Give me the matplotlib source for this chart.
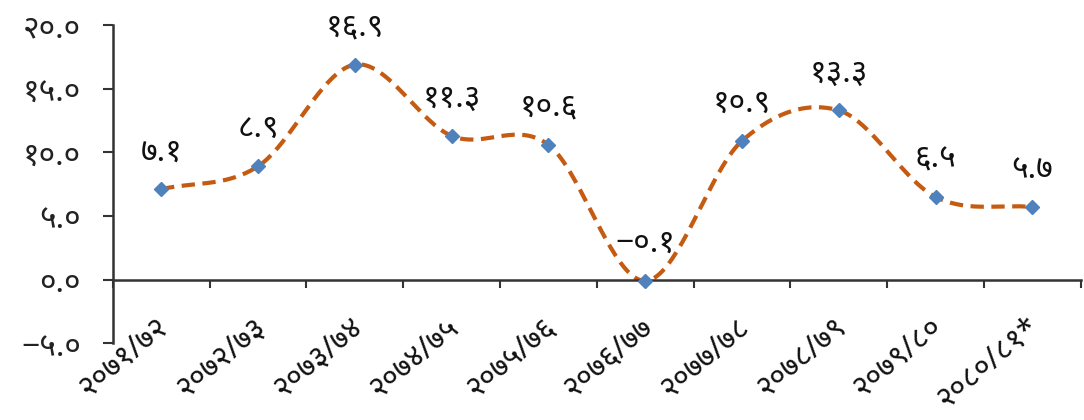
import numpy as np
import matplotlib
matplotlib.use("Agg")
import matplotlib.pyplot as plt

plt.rcParams['font.family'] = ['Noto Sans', 'DejaVu Sans']

categories = ["२०७१/७२", "२०७२/७३", "२०७३/७४", "२०७४/७५", "२०७५/७६",
              "२०७६/७७", "२०७७/७८", "२०७८/७९", "२०७९/८०", "२०८०/८१*"]
values = [7.1, 8.9, 16.9, 11.3, 10.6, -0.1, 10.9, 13.3, 6.5, 5.7]
value_labels = ["७.१", "८.९", "१६.९", "११.३", "१०.६", "−०.१", "१०.९", "१३.३", "६.५", "५.७"]
yticks = [-5, 0, 5, 10, 15, 20]
ytick_labels = ["−५.०", "०.०", "५.०", "१०.०", "१५.०", "२०.०"]

def catmull_rom(x, y, n=40):
    x = np.asarray(x, float); y = np.asarray(y, float)
    px = np.concatenate([[2*x[0]-x[1]], x, [2*x[-1]-x[-2]]])
    py = np.concatenate([[2*y[0]-y[1]], y, [2*y[-1]-y[-2]]])
    xs, ys = [], []
    t = np.linspace(0, 1, n)
    for i in range(1, len(px)-2):
        p0, p1, p2, p3 = py[i-1], py[i], py[i+1], py[i+2]
        q0, q1, q2, q3 = px[i-1], px[i], px[i+1], px[i+2]
        def seg(a0, a1, a2, a3):
            return 0.5*((2*a1) + (-a0+a2)*t + (2*a0-5*a1+4*a2-a3)*t**2 + (-a0+3*a1-3*a2+a3)*t**3)
        xs.append(seg(q0, q1, q2, q3)); ys.append(seg(p0, p1, p2, p3))
    return np.concatenate(xs), np.concatenate(ys)

fig = plt.figure(figsize=(10.84, 4.20), dpi=100)
ax = fig.add_axes([0.104, 0.183, 0.893, 0.757])

x = np.arange(len(values))
sx, sy = catmull_rom(x, values)
line, = ax.plot(sx, sy, color='#C55A11', linewidth=3.0, linestyle='--', zorder=2)
line.set_dashes((3.2, 1.8))
ax.plot(x, values, linestyle='none', marker='D', markersize=7, color='#4F81BD', zorder=3)

FS = 23
for xi, v, lab in zip(x, values, value_labels):
    ax.annotate(lab, (xi, v), xytext=(0, 27), textcoords='offset points',
                ha='center', va='center', fontsize=FS, color='#111111')

ax.set_xlim(-0.5, len(values)-0.5)
ax.set_ylim(-5, 20)
ax.set_yticks(yticks)
ax.set_yticklabels(ytick_labels, fontsize=FS, color='#222222')
ax.set_xticks(np.arange(len(values)+1) - 0.5)
ax.set_xticklabels([])
ax.spines['top'].set_visible(False)
ax.spines['right'].set_visible(False)
ax.spines['bottom'].set_position(('data', 0))
for s in ('left', 'bottom'):
    ax.spines[s].set_color('#333333')
    ax.spines[s].set_linewidth(1.8)
ax.tick_params(axis='y', direction='out', length=7, width=1.5, colors='#333333', labelcolor='#222222', pad=16)
ax.tick_params(axis='x', direction='out', length=6, width=1.5, colors='#333333')

for xi, lab in zip(x, categories):
    ax.text(xi + 0.04, -3.4, lab, rotation=40, ha='right', va='center', rotation_mode='anchor',
            fontsize=22, color='#111111')

fig.savefig('out.png', dpi=100)
